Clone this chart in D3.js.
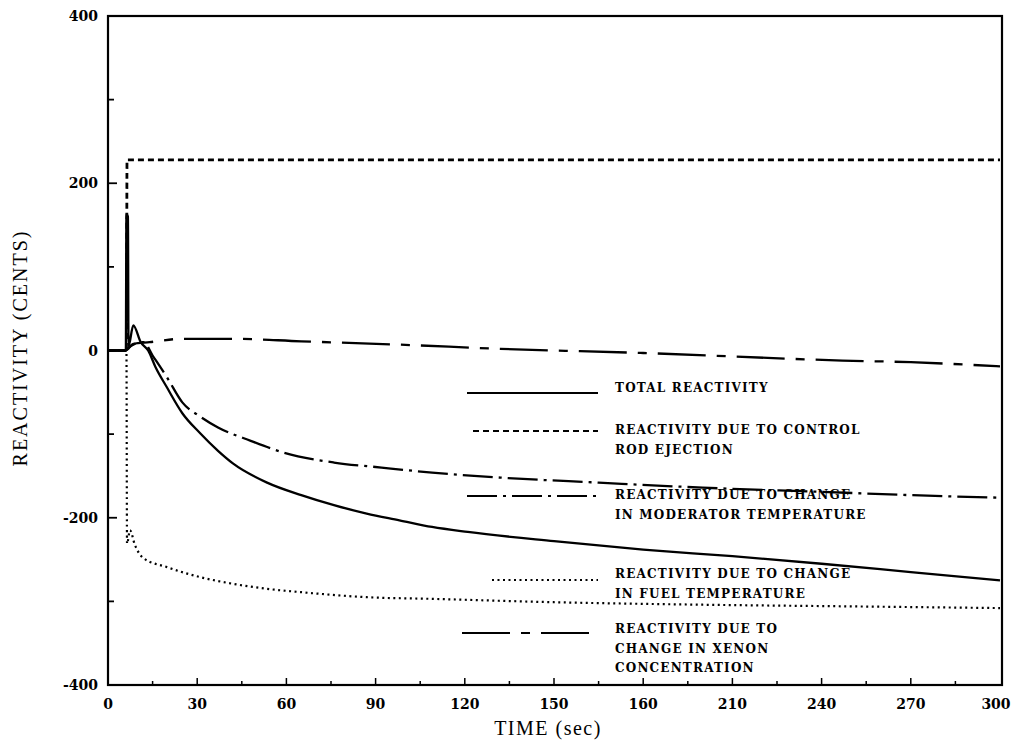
<!DOCTYPE html>
<html>
<head>
<meta charset="utf-8">
<script src="https://cdn.jsdelivr.net/npm/d3@7"></script>
<style>
  body { margin: 0; background: #fff; }
  svg { display: block; }
  .tick-label { font-family: "DejaVu Serif", serif; font-weight: bold; font-size: 14px; }
  .legend-text { font-family: "DejaVu Serif", serif; font-weight: bold; font-size: 12px; letter-spacing: 1.2px; }
  .axis-title { font-family: "Liberation Serif", serif; font-size: 20px; }
</style>
</head>
<body>
<svg id="chart" width="1015" height="740"></svg>
<script>
// time (sec), reactivity (cents)
const totalT = [0, 6, 6.2, 6.7, 6.9, 8.5, 11, 13.5, 16, 19.8, 25, 31, 37, 42, 53.5, 65, 76, 87, 98, 109, 121, 150, 180, 210, 240, 270, 300];
const totalV = [0, 0, 163, 160, 5, 30, 10, 0, -20, -44, -75, -99, -120, -135, -158, -173, -185, -195, -203, -211, -217, -228, -238, -246, -255, -265, -275];

const rodT = [0, 6.2, 6.4, 300];
const rodV = [0, 0, 228, 228];

const modT = [0, 6, 6.5, 9, 12, 15, 20, 25, 31, 37, 48, 59, 76, 92, 109, 132, 165, 200, 240, 270, 300];
const modV = [0, 0, 2, 8, 10, -6, -33, -62, -79, -92, -108, -122, -134, -140, -146, -152, -158, -164, -169, -173, -176];

const fuelT = [0, 6.2, 6.4, 7.4, 9, 11.8, 19.8, 31, 42, 53.5, 65, 87, 109, 150, 200, 250, 300];
const fuelV = [0, 0, -231, -215, -232, -248, -259, -271, -279, -285, -289, -295, -297, -301, -304, -306, -308];

const xenonT = [0, 6, 8.5, 14, 25, 42, 65, 98, 132, 180, 247, 270, 300];
const xenonV = [0, 0, 8, 10, 14, 14, 11, 7, 2, -3, -12, -14, -19];

const xTicks = [0, 30, 60, 90, 120, 150, 180, 210, 240, 270, 300];
const xTickLabels = ["0", "30", "60", "90", "120", "150", "160", "210", "240", "270", "300"];
const yTicks = [400, 200, 0, -200, -400];
const yTickLabels = ["400", "200", "0", "-200", "-400"];

const legendLabels = [
  ["TOTAL REACTIVITY"],
  ["REACTIVITY DUE TO CONTROL", "ROD EJECTION"],
  ["REACTIVITY DUE TO CHANGE", "IN MODERATOR TEMPERATURE"],
  ["REACTIVITY DUE TO CHANGE", "IN FUEL TEMPERATURE"],
  ["REACTIVITY DUE TO", "CHANGE IN XENON", "CONCENTRATION"]
];

const zip = (ts, vs) => ts.map((t, i) => ({ t, v: vs[i] }));
const series = [
  { key: "total", pts: zip(totalT, totalV), dash: null, w: 2.3 },
  { key: "rod", pts: zip(rodT, rodV), dash: "6,4", w: 2.8 },
  { key: "mod", pts: zip(modT, modV), dash: "30,6,3,6", w: 2.3 },
  { key: "fuel", pts: zip(fuelT, fuelV), dash: "2,3.5", w: 2.2 },
  { key: "xenon", pts: zip(xenonT, xenonV), dash: "48,11,9,11", w: 2.3 }
];

const svg = d3.select("#chart");
const plotLeft = 108, plotRight = 1000, plotTop = 16, plotBottom = 685;

const x = d3.scaleLinear().domain([0, 300]).range([plotLeft, plotRight]);
const y = d3.scaleLinear().domain([-400, 400]).range([plotBottom, plotTop]);

// frame
svg.append("rect")
  .attr("x", plotLeft).attr("y", plotTop)
  .attr("width", plotRight + 2 - plotLeft).attr("height", plotBottom - plotTop)
  .attr("fill", "none").attr("stroke", "#000").attr("stroke-width", 2.2);

// inward ticks
svg.selectAll(".ytick")
  .data(d3.range(-300, 301, 100))
  .join("line")
  .attr("class", "ytick")
  .attr("x1", plotLeft).attr("x2", d => plotLeft + (d % 200 === 0 ? 9 : 6))
  .attr("y1", d => y(d)).attr("y2", d => y(d))
  .attr("stroke", "#000").attr("stroke-width", 1.8);
svg.selectAll(".xtick")
  .data(d3.range(15, 300, 15))
  .join("line")
  .attr("class", "xtick")
  .attr("x1", d => x(d)).attr("x2", d => x(d))
  .attr("y1", plotBottom).attr("y2", d => plotBottom - (d % 30 === 0 ? 7 : 4))
  .attr("stroke", "#000").attr("stroke-width", 1.5);

// tick labels
svg.selectAll(".xl")
  .data(xTicks)
  .join("text")
  .attr("class", "tick-label xl")
  .attr("x", d => Math.min(x(d), 996)).attr("y", 709)
  .attr("text-anchor", "middle")
  .text((d, i) => xTickLabels[i]);
svg.selectAll(".yl")
  .data(yTicks)
  .join("text")
  .attr("class", "tick-label yl")
  .attr("x", 98).attr("y", d => y(d) + 5)
  .attr("text-anchor", "end")
  .text((d, i) => yTickLabels[i]);

// axis titles
svg.append("text").attr("class", "axis-title")
  .attr("x", 548).attr("y", 735).attr("text-anchor", "middle")
  .style("letter-spacing", "1.5px")
  .text("TIME (sec)");
svg.append("text").attr("class", "axis-title")
  .attr("transform", "translate(27,348) rotate(-90)")
  .attr("text-anchor", "middle")
  .style("letter-spacing", "2px")
  .text("REACTIVITY (CENTS)");

// curves
const line = d3.line()
  .x(d => x(d.t))
  .y(d => y(d.v))
  .curve(d3.curveMonotoneX);

svg.selectAll(".curve")
  .data(series)
  .join("path")
  .attr("class", "curve")
  .attr("d", d => line(d.pts))
  .attr("fill", "none")
  .attr("stroke", "#000")
  .attr("stroke-width", d => d.w)
  .attr("stroke-dasharray", d => d.dash)
  .attr("stroke-linejoin", "round");

// legend
const legendRows = [
  { ly: 393, lx0: 467, ty: 392 },
  { ly: 431, lx0: 473, ty: 434 },
  { ly: 496, lx0: 467, ty: 499 },
  { ly: 580, lx0: 492, ty: 578 },
  { ly: 633, lx0: 462, ty: 633 }
];
legendRows.forEach((r, i) => {
  const s = series[i];
  svg.append("line")
    .attr("x1", r.lx0).attr("x2", 598)
    .attr("y1", r.ly).attr("y2", r.ly)
    .attr("stroke", "#000")
    .attr("stroke-width", Math.min(s.w, 2))
    .attr("stroke-dasharray", s.dash);
  legendLabels[i].forEach((txt, j) => {
    svg.append("text")
      .attr("class", "legend-text")
      .attr("x", 615).attr("y", r.ty + j * 19.5)
      .text(txt);
  });
});
</script>
</body>
</html>
